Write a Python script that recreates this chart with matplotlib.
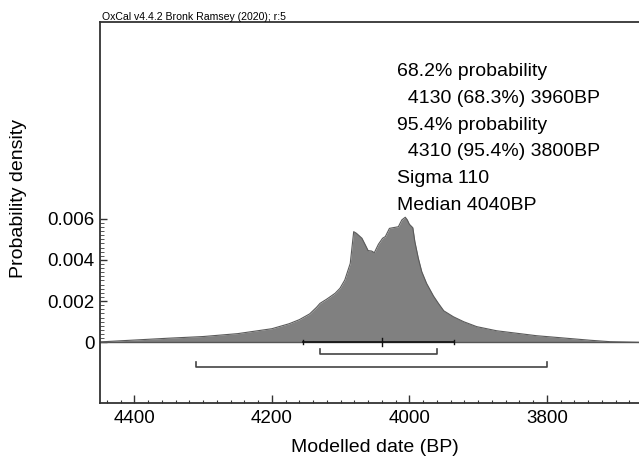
import numpy as np
import matplotlib
matplotlib.use('Agg')
import matplotlib.pyplot as plt
from matplotlib.ticker import FixedLocator, MultipleLocator

plt.rcParams['font.family'] = ['Liberation Sans', 'DejaVu Sans']

# ── Data ─────────────────────────────────────────────────────────────────────
years = [4450, 4400, 4350, 4300, 4250, 4200, 4175, 4160, 4145, 4135, 4130,
         4120, 4108, 4101, 4094, 4086, 4081, 4077, 4069, 4064, 4060, 4055,
         4051, 4045, 4039, 4035, 4029, 4016, 4011, 4006, 4003, 4000, 3995,
         3992, 3987, 3982, 3975, 3965, 3958, 3950, 3936, 3921, 3902, 3873,
         3844, 3815, 3776, 3737, 3708, 3666]
density = [0.00002, 0.00011, 0.00020, 0.00028, 0.00042, 0.00066, 0.00090,
           0.00110, 0.00138, 0.00170, 0.00189, 0.00210, 0.00238, 0.00262,
           0.00302, 0.00383, 0.00537, 0.00529, 0.00505, 0.00472, 0.00445,
           0.00443, 0.00435, 0.00476, 0.00505, 0.00513, 0.00553, 0.00561,
           0.00594, 0.00607, 0.00594, 0.00573, 0.00556, 0.00488, 0.00408,
           0.00343, 0.00286, 0.00225, 0.00190, 0.00153, 0.00124, 0.00100,
           0.00076, 0.00056, 0.00044, 0.00032, 0.00021, 0.00010, 0.00003, 0.0]

range68 = (4130, 3960)
range95 = (4310, 3800)
mean_sigma = (4155, 3935)
median = 4040

summary_lines = ['68.2% probability', '  4130 (68.3%) 3960BP',
                 '95.4% probability', '  4310 (95.4%) 3800BP',
                 'Sigma 110', 'Median 4040BP']

W, H = 639, 462
fig = plt.figure(figsize=(W / 100, H / 100), dpi=100)
ax = fig.add_axes([100 / W, 1 - 403.3 / H, 1 - 100 / W, (403.3 - 21.7) / H])

# ── Probability curve ────────────────────────────────────────────────────────
ax.fill_between(years, density, 0, color='#808080', lw=0)
ax.plot(years, density, color='#5a5a5a', lw=0.8)
ax.axhline(0, color='#555555', lw=1.0)

# mean +/- sigma line with median cross
ax.plot(mean_sigma, [0, 0], color='#111111', lw=1.2)
for yr in mean_sigma:
    ax.plot([yr, yr], [-0.0001, 0.0001], color='#111111', lw=1.0)
ax.plot([median, median], [-0.0002, 0.0002], color='#111111', lw=1.0)

# ranges (brackets)
def bracket(r, y, h=0.00024):
    ax.plot([r[0], r[0], r[1], r[1]], [y + h, y, y, y + h],
            color='#444444', lw=1.2)

bracket(range68, -0.00057)
bracket(range95, -0.00118)

# ── Axes ────────────────────────────────────────────────────────────────────
ax.set_xlim(4450, 3666)
ax.set_ylim(-0.00296, 0.01556)
ax.xaxis.set_major_locator(MultipleLocator(200))
ax.xaxis.set_minor_locator(MultipleLocator(20))
ax.yaxis.set_major_locator(FixedLocator([0, 0.002, 0.004, 0.006]))
ax.yaxis.set_minor_locator(FixedLocator(np.arange(0, 0.00601, 0.0002)))
ax.set_yticklabels(['0', '0.002', '0.004', '0.006'])
ax.tick_params(axis='x', which='major', direction='in', length=6, width=1.0,
               labelsize=13.5, pad=5, color='#333333')
ax.tick_params(axis='x', which='minor', direction='in', length=2.5, width=0.8,
               color='#333333')
ax.tick_params(axis='y', which='major', direction='in', length=5, width=1.0,
               labelsize=13.5, pad=4, color='#333333')
ax.tick_params(axis='y', which='minor', direction='in', length=3, width=0.7,
               color='#555555')
for s in ['left', 'top', 'bottom']:
    ax.spines[s].set_linewidth(1.3)
    ax.spines[s].set_color('#333333')
ax.spines['right'].set_visible(False)

fig.text(375 / W, 1 - 447 / H, 'Modelled date (BP)', ha='center', va='center',
         fontsize=14)
fig.text(19 / W, 1 - 199 / H, 'Probability density', ha='center', va='center',
         rotation=90, fontsize=14)
fig.text(102 / W, 1 - 19.5 / H, 'OxCal v4.4.2 Bronk Ramsey (2020); r:5',
         ha='left', va='baseline', fontsize=7.6)

base = 76
for i, line in enumerate(summary_lines):
    fig.text(397 / W, 1 - (base + i * 26.8) / H, line, ha='left',
             va='baseline', fontsize=14)

plt.savefig('out.png', dpi=100)
